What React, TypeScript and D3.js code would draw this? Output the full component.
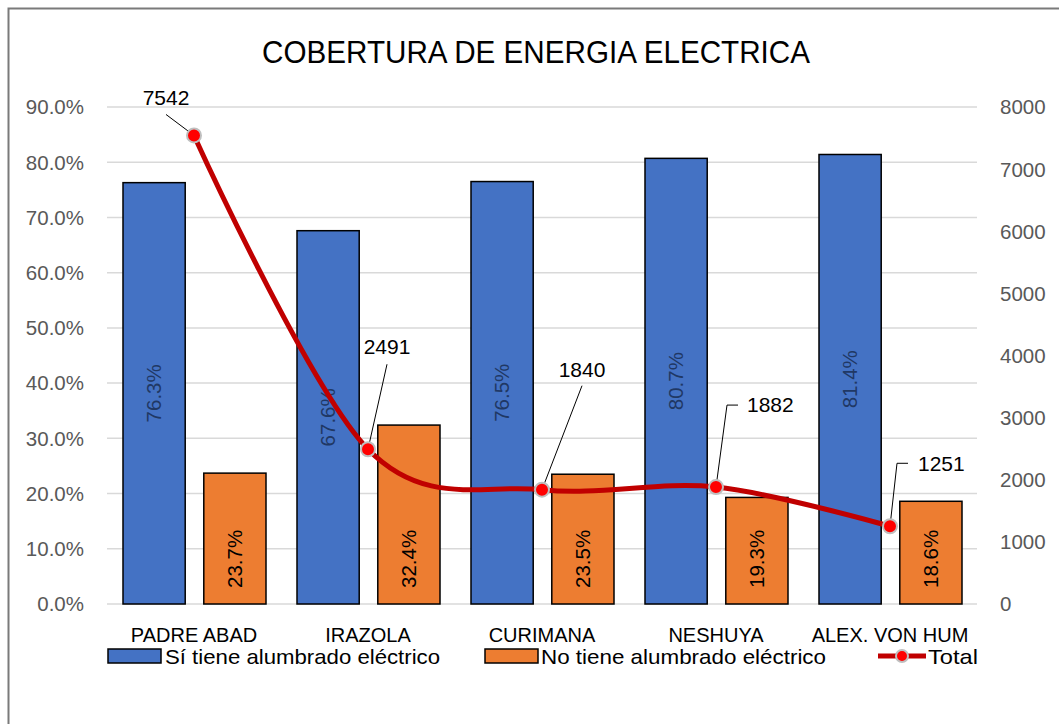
import React from "react";
import * as d3 from "d3";

const title = "COBERTURA DE ENERGIA ELECTRICA";
const categories = ["PADRE ABAD", "IRAZOLA", "CURIMANA", "NESHUYA", "ALEX. VON HUM"];
const siTiene = [76.3, 67.6, 76.5, 80.7, 81.4];
const noTiene = [23.7, 32.4, 23.5, 19.3, 18.6];
const total = [7542, 2491, 1840, 1882, 1251];
const leftTicks = [0, 10, 20, 30, 40, 50, 60, 70, 80, 90];
const rightTicks = [0, 1000, 2000, 3000, 4000, 5000, 6000, 7000, 8000];
const seriesNames = ["Sí tiene alumbrado eléctrico", "No tiene alumbrado eléctrico", "Total"];

// callout offsets for the Total data labels (layout only)
const calloutOffsets = [
  { tx: -28, ty: -30, lx: -28, ly: -21, elbow: false },
  { tx: 19, ty: -95, lx: 19, ly: -85, elbow: false },
  { tx: 40, ty: -113, lx: 40, ly: -104, elbow: false },
  { tx: 27, ty: -75, lx: 11, ly: -82, elbow: true },
  { tx: 24, ty: -55, lx: 7, ly: -63, elbow: true },
];

const BLUE = "#4472C4";
const ORANGE = "#ED7D31";
const RED = "#C00000";
const FONT = "'Liberation Sans', Arial, sans-serif";

export default function App() {
  const left = 107, right = 977, top = 107, bottom = 604;
  const x = d3.scaleBand<string>().domain(categories).range([left, right]).padding(0);
  const inner = d3.scaleBand<string>().domain(["si", "no"]).range([16, 159]).paddingInner(0.23);
  const yL = d3.scaleLinear().domain([0, 90]).range([bottom, top]);
  const yR = d3.scaleLinear().domain([0, 8000]).range([bottom, top]);
  const cx = (c: string) => (x(c) as number) + x.bandwidth() / 2;

  const pts: [number, number][] = categories.map((c, i) => [cx(c), yR(total[i])]);
  const linePath = d3.line().curve(d3.curveCatmullRom.alpha(0))(pts) || "";

  return (
    <svg width={1059} height={724} style={{ position: "absolute", left: 0, top: 0, display: "block" }} fontFamily={FONT}>
      <rect x={0} y={0} width={1059} height={724} fill="#fff" />
      <rect x={8.5} y={8.5} width={1200} height={900} fill="#fff" stroke="#7a7a7a" strokeWidth={2} />
      <text x={536} y={63} fontSize={31} textAnchor="middle" textLength={548} lengthAdjust="spacingAndGlyphs" fill="#000">{title}</text>

      {leftTicks.map((t) => (
        <g key={"l" + t}>
          <line x1={left} x2={right} y1={yL(t)} y2={yL(t)} stroke="#D9D9D9" strokeWidth={1.5} />
          <text x={84} y={yL(t)} dy="0.36em" textAnchor="end" fontSize={20.5} fill="#595959">{t.toFixed(1) + "%"}</text>
        </g>
      ))}
      {rightTicks.map((t) => (
        <text key={"r" + t} x={1000} y={yR(t)} dy="0.36em" textAnchor="start" fontSize={20.5} fill="#595959">{t}</text>
      ))}

      {categories.map((c, i) => {
        const x0 = x(c) as number;
        const bx = x0 + (inner("si") as number);
        const ox = x0 + (inner("no") as number);
        const w = inner.bandwidth();
        const by = yL(siTiene[i]);
        const oy = yL(noTiene[i]);
        return (
          <g key={c}>
            <rect x={bx} y={by} width={w} height={bottom - by} fill={BLUE} stroke="#000" strokeWidth={1.5} />
            <rect x={ox} y={oy} width={w} height={bottom - oy} fill={ORANGE} stroke="#000" strokeWidth={1.5} />
            <text transform={`translate(${bx + w / 2},${(by + bottom) / 2}) rotate(-90)`} textAnchor="middle" dy="0.36em" fontSize={20.5} fill="#203864">{siTiene[i].toFixed(1) + "%"}</text>
            <text transform={`translate(${ox + w / 2},${bottom - 16}) rotate(-90)`} textAnchor="start" dy="0.36em" fontSize={20.5} fill="#000">{noTiene[i].toFixed(1) + "%"}</text>
            <text x={cx(c)} y={642} textAnchor="middle" fontSize={20} fill="#000">{c}</text>
          </g>
        );
      })}

      <path d={linePath} fill="none" stroke={RED} strokeWidth={5} strokeLinecap="round" />
      {pts.map(([px, py], i) => {
        const o = calloutOffsets[i];
        const lead = o.elbow
          ? `M${px + o.lx + 11},${py + o.ly}L${px + o.lx},${py + o.ly}L${px},${py}`
          : `M${px + o.lx},${py + o.ly}L${px},${py}`;
        return (
          <g key={"p" + i}>
            <path d={lead} fill="none" stroke="#000" strokeWidth={1} />
            <circle cx={px} cy={py} r={7} fill="#FF0000" stroke="#BFBFBF" strokeWidth={2} />
            <text x={px + o.tx} y={py + o.ty} textAnchor={o.elbow ? "start" : "middle"} dx={o.elbow ? 4 : 0} fontSize={21} fill="#000">{total[i]}</text>
          </g>
        );
      })}

      {/* legend */}
      <rect x={108} y={649} width={53} height={14} fill={BLUE} stroke="#000" strokeWidth={1.5} />
      <text x={165} y={664} fontSize={21} textLength={275} lengthAdjust="spacingAndGlyphs">{seriesNames[0]}</text>
      <rect x={485} y={649} width={53} height={14} fill={ORANGE} stroke="#000" strokeWidth={1.5} />
      <text x={541} y={664} fontSize={21} textLength={285} lengthAdjust="spacingAndGlyphs">{seriesNames[1]}</text>
      <line x1={878} x2={926} y1={656} y2={656} stroke={RED} strokeWidth={5} />
      <circle cx={902} cy={656} r={6} fill="#FF0000" stroke="#BFBFBF" strokeWidth={2} />
      <text x={928} y={664} fontSize={21} textLength={50} lengthAdjust="spacingAndGlyphs">{seriesNames[2]}</text>
    </svg>
  );
}
